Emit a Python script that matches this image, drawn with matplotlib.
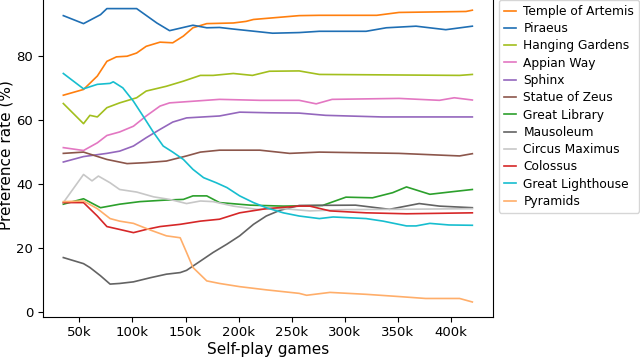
import matplotlib
matplotlib.use("Agg")
import matplotlib.pyplot as plt
from matplotlib.ticker import FuncFormatter

# self-play games (thousands) and preference rate (%) per wonder
artemis_x = [35, 54, 67, 76, 85, 95, 104, 113, 126, 138, 148, 157, 170, 195, 207, 214, 257, 276, 330, 351, 414, 420]
artemis_y = [67.8, 69.6, 73.8, 78.4, 79.8, 80.0, 81.0, 83.1, 84.4, 84.2, 86.3, 88.9, 90.2, 90.4, 90.9, 91.5, 92.7, 92.8, 92.8, 93.7, 94.0, 94.4]

piraeus_x = [35, 54, 70, 76, 104, 123, 135, 157, 170, 182, 195, 232, 257, 276, 320, 339, 367, 395, 420]
piraeus_y = [92.7, 90.2, 93.0, 94.9, 94.9, 90.4, 88.0, 89.7, 88.9, 89.0, 88.5, 87.2, 87.4, 87.8, 87.8, 88.9, 89.4, 88.3, 89.4]

gardens_x = [35, 54, 60, 67, 76, 88, 104, 113, 132, 148, 164, 176, 195, 213, 229, 257, 276, 408, 420]
gardens_y = [65.2, 58.9, 61.5, 61.0, 63.9, 65.4, 67.0, 69.1, 70.6, 72.2, 74.0, 74.0, 74.6, 74.0, 75.3, 75.4, 74.3, 74.0, 74.3]

appian_x = [35, 54, 67, 76, 88, 101, 113, 126, 135, 182, 220, 257, 273, 288, 351, 389, 403, 420]
appian_y = [51.4, 50.5, 52.9, 55.2, 56.3, 58.1, 61.3, 64.4, 65.4, 66.5, 66.2, 66.2, 65.1, 66.5, 66.8, 66.2, 67.0, 66.3]

sphinx_x = [35, 54, 76, 88, 101, 113, 126, 138, 151, 182, 201, 229, 257, 282, 335, 420]
sphinx_y = [46.9, 48.6, 49.6, 50.3, 51.9, 54.5, 57.1, 59.4, 60.7, 61.3, 62.5, 62.3, 62.2, 61.5, 61.0, 61.0]

zeus_x = [35, 54, 76, 95, 113, 132, 151, 164, 182, 220, 248, 276, 351, 408, 420]
zeus_y = [49.6, 50.0, 47.7, 46.4, 46.7, 47.2, 48.8, 50.0, 50.6, 50.6, 49.6, 50.0, 49.6, 48.8, 49.5]

library_x = [35, 54, 70, 88, 107, 132, 148, 157, 170, 182, 211, 242, 279, 301, 326, 345, 358, 380, 401, 420]
library_y = [33.7, 35.4, 32.6, 33.7, 34.5, 35.0, 35.2, 36.3, 36.3, 34.2, 33.4, 33.1, 33.3, 35.9, 35.7, 37.3, 39.1, 36.8, 37.6, 38.3]

mausoleum_x = [35, 54, 60, 70, 79, 88, 101, 117, 132, 145, 151, 164, 176, 189, 201, 214, 226, 239, 257, 310, 342, 370, 389, 420]
mausoleum_y = [17.0, 15.1, 13.9, 11.3, 8.7, 8.9, 9.4, 10.7, 11.8, 12.3, 13.0, 15.9, 18.6, 21.2, 23.8, 27.4, 30.0, 31.8, 33.3, 33.4, 32.1, 33.9, 33.1, 32.6]

circus_x = [35, 54, 62, 68, 79, 88, 104, 120, 135, 151, 164, 176, 195, 217, 242, 267, 300, 351, 420]
circus_y = [34.2, 43.0, 41.0, 42.5, 40.4, 38.3, 37.5, 36.0, 35.2, 33.9, 34.7, 34.5, 33.1, 32.1, 32.3, 31.6, 32.0, 32.1, 32.3]

colossus_x = [35, 54, 67, 76, 88, 101, 113, 126, 145, 164, 182, 201, 226, 257, 267, 286, 320, 358, 420]
colossus_y = [34.2, 34.2, 30.0, 26.7, 25.8, 24.8, 25.8, 26.7, 27.4, 28.4, 29.0, 31.0, 32.3, 33.1, 33.1, 31.6, 31.0, 30.7, 31.0]

lighthouse_x = [35, 54, 67, 79, 82, 91, 101, 110, 120, 129, 138, 148, 157, 167, 179, 189, 201, 214, 226, 242, 257, 276, 289, 320, 336, 358, 367, 380, 398, 420]
lighthouse_y = [74.6, 69.8, 71.2, 71.5, 72.0, 70.1, 65.9, 61.3, 56.1, 51.9, 50.0, 47.7, 44.6, 42.0, 40.4, 38.9, 36.3, 34.2, 32.6, 31.0, 30.0, 29.2, 29.7, 29.2, 28.4, 26.9, 26.9, 27.7, 27.2, 27.1]

pyramids_x = [35, 54, 67, 79, 88, 101, 117, 132, 145, 151, 157, 170, 182, 201, 226, 257, 264, 286, 320, 351, 376, 408, 420]
pyramids_y = [34.5, 34.7, 32.3, 29.2, 28.4, 27.7, 25.6, 23.8, 23.2, 18.6, 13.9, 9.7, 8.9, 7.9, 6.9, 5.8, 5.2, 6.1, 5.5, 4.8, 4.2, 4.2, 3.1]

names = ["Temple of Artemis", "Piraeus", "Hanging Gardens", "Appian Way", "Sphinx",
         "Statue of Zeus", "Great Library", "Mausoleum", "Circus Maximus", "Colossus",
         "Great Lighthouse", "Pyramids"]
series = [(artemis_x, artemis_y), (piraeus_x, piraeus_y), (gardens_x, gardens_y),
          (appian_x, appian_y), (sphinx_x, sphinx_y), (zeus_x, zeus_y),
          (library_x, library_y), (mausoleum_x, mausoleum_y), (circus_x, circus_y),
          (colossus_x, colossus_y), (lighthouse_x, lighthouse_y), (pyramids_x, pyramids_y)]
colors = ["#ff7f0e", "#1f6fb4", "#a2bf1e", "#e377c2", "#9467bd", "#8c564b",
          "#2ca02c", "#636363", "#c7c7c7", "#d62728", "#17becf", "#ffae6a"]

fig = plt.figure(figsize=(6.4, 3.57), dpi=100)
ax = fig.add_axes([0.067, 0.113, 0.703, 0.904])

for (xs, ys), name, c in zip(series, names, colors):
    ax.plot([x * 1000 for x in xs], ys, color=c, lw=1.2, label=name)

ax.set_xticks([50000, 100000, 150000, 200000, 250000, 300000, 350000, 400000])
ax.xaxis.set_major_formatter(FuncFormatter(lambda v, _: f"{v/1000:.0f}k"))
ax.set_yticks([0, 20, 40, 60, 80])
ax.tick_params(labelsize=9.5)
ax.set_xlabel("Self-play games", fontsize=11, labelpad=2)
ax.set_ylabel("Preference rate (%)", fontsize=11, labelpad=2)
ax.legend(loc="upper left", bbox_to_anchor=(1, 1), fontsize=8.8, handlelength=1.0,
          handletextpad=0.6, labelspacing=0.35)

fig.savefig("out.png", dpi=100)
